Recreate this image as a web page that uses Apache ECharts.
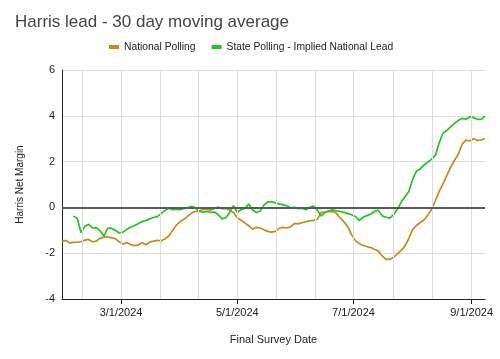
<!DOCTYPE html>
<html>
<head>
<meta charset="utf-8">
<script src="https://cdn.jsdelivr.net/npm/echarts@6/dist/echarts.min.js"></script>
<style>
html,body{margin:0;padding:0;background:#fff;}
#chart{width:500px;height:359px;}
</style>
</head>
<body>
<div id="chart"></div>
<script>
const titleText = 'Harris lead - 30 day moving average';
const seriesNames = ['National Polling', 'State Polling - Implied National Lead'];
const xAxisName = 'Final Survey Date';
const yAxisName = 'Harris Net Margin';
const xMin = '2024-01-30';
const xMax = '2024-09-08';
const tickDates = ['2024-03-01', '2024-05-01', '2024-07-01', '2024-09-01'];
const gridDates = ['2024-02-09 16:00', '2024-03-01', '2024-03-21 08:00', '2024-04-10 16:00', '2024-05-01', '2024-05-21 08:00', '2024-06-10 16:00', '2024-07-01', '2024-07-21 16:00', '2024-08-11 08:00', '2024-09-01'];
const yTicks = [-4, -2, 0, 2, 4, 6];

const dates = [
'2024-01-30','2024-02-01','2024-02-03','2024-02-05','2024-02-07','2024-02-09','2024-02-11','2024-02-13','2024-02-15','2024-02-17','2024-02-19','2024-02-21','2024-02-23','2024-02-25','2024-02-27','2024-02-29',
'2024-03-02','2024-03-04','2024-03-06','2024-03-08','2024-03-10','2024-03-12','2024-03-14','2024-03-16','2024-03-18','2024-03-20','2024-03-22','2024-03-24','2024-03-26','2024-03-28','2024-03-30',
'2024-04-01','2024-04-03','2024-04-05','2024-04-07','2024-04-09','2024-04-11','2024-04-13','2024-04-15','2024-04-17','2024-04-19','2024-04-21','2024-04-23','2024-04-25','2024-04-27','2024-04-29',
'2024-05-01','2024-05-03','2024-05-05','2024-05-07','2024-05-09','2024-05-11','2024-05-13','2024-05-15','2024-05-17','2024-05-19','2024-05-21','2024-05-23','2024-05-25','2024-05-27','2024-05-29','2024-05-31',
'2024-06-02','2024-06-04','2024-06-06','2024-06-08','2024-06-10','2024-06-12','2024-06-14','2024-06-16','2024-06-18','2024-06-20','2024-06-22','2024-06-24','2024-06-26','2024-06-28','2024-06-30',
'2024-07-02','2024-07-04','2024-07-06','2024-07-08','2024-07-10','2024-07-12','2024-07-14','2024-07-16','2024-07-18','2024-07-20','2024-07-22','2024-07-24','2024-07-26','2024-07-28','2024-07-30',
'2024-08-01','2024-08-03','2024-08-05','2024-08-07','2024-08-09','2024-08-11','2024-08-13','2024-08-15','2024-08-17','2024-08-19','2024-08-21','2024-08-23','2024-08-25','2024-08-27','2024-08-29','2024-08-31',
'2024-09-02','2024-09-04','2024-09-06','2024-09-08'
];

const nationalPolling = [
-1.50,-1.44,-1.55,-1.53,-1.52,-1.50,-1.43,-1.40,-1.50,-1.47,-1.35,-1.30,-1.28,-1.33,-1.36,-1.50,
-1.60,-1.54,-1.62,-1.67,-1.64,-1.54,-1.63,-1.52,-1.47,-1.44,-1.46,-1.38,-1.25,-1.02,-0.78,
-0.62,-0.52,-0.38,-0.25,-0.17,-0.17,-0.08,-0.09,-0.12,-0.05,0.02,-0.06,-0.05,-0.12,-0.22,
-0.45,-0.56,-0.68,-0.80,-0.95,-0.87,-0.90,-0.98,-1.05,-1.08,-1.05,-0.90,-0.87,-0.90,-0.85,-0.70,
-0.72,-0.67,-0.62,-0.59,-0.57,-0.52,-0.22,-0.20,-0.19,-0.17,-0.26,-0.46,-0.63,-0.85,-1.20,
-1.45,-1.58,-1.66,-1.71,-1.75,-1.83,-1.91,-2.12,-2.27,-2.27,-2.18,-2.03,-1.88,-1.68,-1.36,
-0.97,-0.79,-0.66,-0.55,-0.33,-0.08,0.30,0.71,1.03,1.40,1.76,2.06,2.32,2.76,2.94,2.90,
3.00,2.93,2.94,3.01
];

const statePolling = [
null,null,null,-0.38,-0.48,-1.10,-0.82,-0.74,-0.90,-0.88,-1.03,-1.25,-0.90,-0.92,-1.00,-1.12,
-1.08,-0.96,-0.87,-0.79,-0.71,-0.62,-0.57,-0.50,-0.44,-0.40,-0.27,-0.14,-0.04,-0.10,-0.08,
-0.10,-0.05,-0.02,0.05,-0.02,-0.16,-0.21,-0.18,-0.22,-0.20,-0.32,-0.50,-0.45,-0.22,0.08,
-0.22,-0.10,-0.04,0.15,-0.10,-0.22,-0.16,0.10,0.24,0.24,0.20,0.14,0.12,0.06,-0.02,0.00,
-0.06,-0.04,-0.10,0.00,0.06,-0.12,-0.38,-0.22,-0.15,-0.11,-0.15,-0.18,-0.22,-0.27,-0.32,
-0.40,-0.57,-0.43,-0.36,-0.29,-0.18,-0.12,-0.37,-0.43,-0.47,-0.32,-0.08,0.22,0.45,0.69,
1.22,1.58,1.68,1.85,1.98,2.11,2.28,2.83,3.25,3.36,3.52,3.67,3.80,3.89,3.85,3.95,
3.92,3.85,3.84,4.00
];

const colors = ['#c98a14', '#1dc81d'];

function toTime(s) {
  const m = s.match(/^(\d{4})-(\d{2})-(\d{2})(?:[ T](\d{2}):(\d{2}))?/);
  return new Date(+m[1], +m[2] - 1, +m[3], m[4] ? +m[4] : 0, m[5] ? +m[5] : 0).getTime();
}

const font = 'Liberation Sans, Arial, sans-serif';
const chart = echarts.init(document.getElementById('chart'), null, { renderer: 'canvas' });

const option = {
  animation: false,
  backgroundColor: '#ffffff',
  title: {
    text: titleText,
    left: 10,
    top: 9,
    textStyle: { fontFamily: font, fontSize: 17, fontWeight: 'normal', color: '#444444' }
  },
  legend: {
    data: seriesNames.map(n => ({ name: n, icon: 'rect' })),
    left: 104,
    top: 37,
    itemWidth: 10,
    itemHeight: 4,
    itemGap: 16,
    textStyle: { fontFamily: font, fontSize: 10.3, color: '#222222' }
  },
  grid: { left: 62, right: 15, top: 70, bottom: 60, containLabel: false },
  xAxis: {
    type: 'value',
    min: toTime(xMin),
    max: toTime(xMax),
    name: xAxisName,
    nameLocation: 'middle',
    nameGap: 35,
    nameTextStyle: { fontFamily: font, fontSize: 11, color: '#222222' },
    axisLine: { show: true, onZero: false, lineStyle: { color: '#222222', width: 1 } },
    axisTick: { show: true, customValues: tickDates.map(toTime), length: 5, lineStyle: { color: '#222222' } },
    axisLabel: {
      customValues: tickDates.map(toTime),
      fontFamily: font, fontSize: 11, color: '#222222', margin: 8,
      formatter: function (v) { const d = new Date(v); return (d.getMonth() + 1) + '/' + d.getDate() + '/' + d.getFullYear(); }
    },
    splitLine: { show: false }
  },
  yAxis: {
    type: 'value',
    min: yTicks[0],
    max: yTicks[yTicks.length - 1],
    interval: 2,
    name: yAxisName,
    nameLocation: 'middle',
    nameRotate: 90,
    nameGap: 37,
    nameTextStyle: { fontFamily: font, fontSize: 10, color: '#222222' },
    axisLine: { show: true, onZero: false, lineStyle: { color: '#222222', width: 1 } },
    axisTick: { show: false },
    axisLabel: { fontFamily: font, fontSize: 11, color: '#222222', margin: 7 },
    splitLine: { show: true, lineStyle: { color: '#dddddd', width: 1 } }
  },
  series: [
    {
      name: 'grid-helper',
      type: 'line',
      data: [],
      z: 1,
      silent: true,
      markLine: {
        silent: true,
        symbol: ['none', 'none'],
        label: { show: false },
        animation: false,
        data: gridDates.map(d => ({ xAxis: toTime(d), lineStyle: { color: '#dddddd', width: 1, type: 'solid' } }))
          .concat([{ yAxis: 0, lineStyle: { color: '#5a5a5a', width: 2, type: 'solid' } }])
      }
    },
    {
      name: seriesNames[0],
      type: 'line',
      z: 3,
      showSymbol: false,
      color: colors[0],
      lineStyle: { color: colors[0], width: 1.7 },
      data: dates.map((d, i) => [toTime(d), nationalPolling[i]])
    },
    {
      name: seriesNames[1],
      type: 'line',
      z: 4,
      showSymbol: false,
      connectNulls: false,
      color: colors[1],
      lineStyle: { color: colors[1], width: 1.7 },
      data: dates.map((d, i) => [toTime(d), statePolling[i]])
    }
  ]
};
chart.setOption(option);
</script>
</body>
</html>
